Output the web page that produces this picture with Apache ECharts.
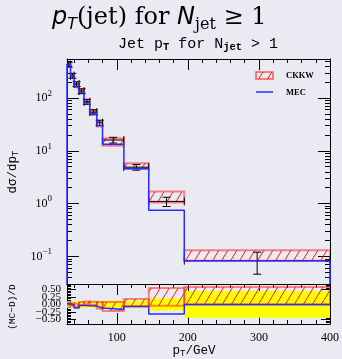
<!DOCTYPE html>
<html>
<head>
<meta charset="utf-8">
<script src="https://cdn.jsdelivr.net/npm/echarts@6/dist/echarts.min.js"></script>
<style>
html, body { margin: 0; padding: 0; background: #eaeaf2; }
#chart { width: 342px; height: 359px; }
</style>
</head>
<body>
<div id="chart"></div>
<script>
// Jet pT bins (GeV)
const binEdges = [30, 35, 40, 47, 54, 62, 72, 80, 110, 145, 195, 400];
// Measured cross section and its uncertainty per bin
const dataVal = [430, 265, 184, 135, 85, 54, 34, 16, 4.9, 1.1, 0.083];
const dataErr = [45, 28, 19, 14, 9, 6, 4, 2.0, 0.6, 0.22, 0.037];
// MEC prediction
const mecVal = [439, 260, 162, 130, 81, 51, 30, 13.3, 4.55, 0.75, 0.083];
// CKKW prediction band (lower / upper edge)
const ckkwLo = [417, 254, 169, 132, 85, 53, 29, 12.5, 4.6, 1.05, 0.083];
const ckkwHi = [456, 276, 188, 146, 93.5, 59, 36.7, 17.3, 5.8, 1.7, 0.131];

// Axis ranges and ticks
const xMin = 30, xMax = 400;
const yMainMin = 0.03, yMainMax = 548;
const yRatioMin = -0.65, yRatioMax = 0.68;
const xMajorTicks = [100, 200, 300, 400];
const xMinorTicks = [40, 60, 80, 120, 140, 160, 180, 220, 240, 260, 280, 320, 340, 360, 380];
const yMainMajorTicks = [0.1, 1, 10, 100];
const ratioMajorTicks = [-0.5, -0.25, 0, 0.25, 0.5];
// ratio labels are split over two axes so that the crowded ones all stay visible
const ratioLabelsA = [-0.5, 0, 0.5];
const ratioLabelsB = [-0.25, 0.25];

const yMainMinorTicks = [];
for (let k = -2; k <= 2; k++) {
  for (let m = 2; m <= 9; m++) {
    const v = m * Math.pow(10, k);
    if (v > yMainMin && v < yMainMax) yMainMinorTicks.push(v);
  }
}
const ratioMinorTicks = [];
for (let i = -13; i <= 13; i++) {
  const v = +(i * 0.05).toFixed(2);
  if (Math.abs(v * 4 - Math.round(v * 4)) > 1e-6) ratioMinorTicks.push(v);
}

// Red diagonal hatch used for the CKKW band
function makeHatch() {
  const c = document.createElement('canvas');
  c.width = 9; c.height = 15;
  const g = c.getContext('2d');
  g.strokeStyle = '#ff1a1a';
  g.lineWidth = 1;
  g.beginPath();
  [-9, 0, 9].forEach(function (dx) { g.moveTo(dx, 15); g.lineTo(dx + 9, 0); });
  g.stroke();
  return c;
}
const hatch = { image: makeHatch(), repeat: 'repeat' };

const serifLabel = { fontFamily: 'Liberation Serif', fontSize: 12, color: '#000' };

function xAxisDef(grid, pos, o) {
  return {
    type: 'value', gridIndex: grid, position: pos, min: xMin, max: xMax,
    axisLine: { show: !!o.line, onZero: false, lineStyle: { color: '#000', width: 1 } },
    axisTick: { show: !!o.ticks, inside: true, length: o.len || 4, customValues: o.ticks || [],
      lineStyle: { color: '#000', width: 1 } },
    axisLabel: o.labels ? Object.assign({ show: true, customValues: o.labels, margin: 8, hideOverlap: false }, serifLabel)
                        : { show: false },
    splitLine: { show: false }
  };
}
function yAxisDef(grid, pos, o) {
  const base = grid === 0
    ? { type: 'log', logBase: 10, min: yMainMin, max: yMainMax }
    : { type: 'value', min: yRatioMin, max: yRatioMax };
  return Object.assign(base, {
    gridIndex: grid, position: pos,
    axisLine: { show: !!o.line, onZero: false, lineStyle: { color: '#000', width: 1 } },
    axisTick: { show: !!o.ticks, inside: true, length: o.len || 5, customValues: o.ticks || [],
      lineStyle: { color: '#000', width: 1 } },
    axisLabel: o.labels ? Object.assign({ show: true, customValues: o.labels, hideOverlap: false }, o.labelOpt)
                        : { show: false },
    splitLine: { show: false }
  });
}

const logLabel = {
  margin: 15,
  formatter: function (v) {
    const e = Math.round(Math.log10(v));
    return '{b|10}{s|' + (e < 0 ? '\u2212' + (-e) : e) + '}';
  },
  rich: {
    b: { fontFamily: 'Liberation Serif', fontSize: 12, lineHeight: 18, color: '#000' },
    s: { fontFamily: 'Liberation Serif', fontSize: 9, lineHeight: 10, verticalAlign: 'top', color: '#000' }
  }
};
const ratioLabel = {
  margin: 6, fontFamily: 'Liberation Serif', fontSize: 11, color: '#000',
  showMinLabel: true, showMaxLabel: true,
  formatter: function (v) { return v < 0 ? '\u2212' + (-v).toFixed(2) : v.toFixed(2); }
};

const xAxes = [
  xAxisDef(0, 'bottom', { line: true }),                                   // 0 main frame bottom
  xAxisDef(0, 'top', { line: true, ticks: xMajorTicks, len: 11 }),          // 1 main top major
  xAxisDef(0, 'top', { ticks: xMinorTicks, len: 4 }),                       // 2 main top minor
  xAxisDef(1, 'bottom', { line: true, ticks: xMajorTicks, len: 11, labels: xMajorTicks }), // 3 ratio bottom
  xAxisDef(1, 'bottom', { ticks: xMinorTicks, len: 4 }),                    // 4
  xAxisDef(1, 'top', { line: true, ticks: xMajorTicks, len: 11 }),          // 5
  xAxisDef(1, 'top', { ticks: xMinorTicks, len: 4 })                        // 6
];
const yAxes = [
  yAxisDef(0, 'left', { line: true, ticks: yMainMajorTicks, len: 12, labels: yMainMajorTicks, labelOpt: logLabel }), // 0
  yAxisDef(0, 'left', { ticks: yMainMinorTicks, len: 5 }),                  // 1
  yAxisDef(0, 'right', { line: true, ticks: yMainMajorTicks, len: 12 }),    // 2
  yAxisDef(0, 'right', { ticks: yMainMinorTicks, len: 5 }),                 // 3
  yAxisDef(1, 'left', { line: true, ticks: ratioMajorTicks, len: 9, labels: ratioLabelsA, labelOpt: ratioLabel }), // 4
  yAxisDef(1, 'left', { ticks: ratioMinorTicks, len: 4 }),                  // 5
  yAxisDef(1, 'right', { line: true, ticks: ratioMajorTicks, len: 9 }),     // 6
  yAxisDef(1, 'right', { ticks: ratioMinorTicks, len: 4 }),                 // 7
  yAxisDef(1, 'left', { labels: ratioLabelsB, labelOpt: ratioLabel })       // 8
];

// Per-bin records
const bins = dataVal.map(function (v, i) {
  return {
    x0: binEdges[i], x1: binEdges[i + 1], v: v, err: dataErr[i],
    mec: mecVal[i], lo: ckkwLo[i], hi: ckkwHi[i]
  };
});

function bandItem(x0, x1, y0, y1, style) {
  return function (api) {
    const a = api.coord([x0, y1]);
    const b = api.coord([x1, y0]);
    return { type: 'rect', shape: { x: a[0], y: a[1], width: b[0] - a[0], height: b[1] - a[1] }, style: style };
  };
}

const bandStyle = { fill: hatch, stroke: 'rgba(255,40,40,0.55)', lineWidth: 2 };

// Histogram outline for MEC (drops to the frame at both ends)
const mecSteps = [[binEdges[0], yMainMin]];
bins.forEach(function (b) { mecSteps.push([b.x0, b.mec], [b.x1, b.mec]); });
mecSteps.push([binEdges[binEdges.length - 1], yMainMin]);

const mecRatioSteps = [];
bins.forEach(function (b) {
  const r = (b.mec - b.v) / b.v;
  mecRatioSteps.push([b.x0, r], [b.x1, r]);
});

const chart = echarts.init(document.getElementById('chart'), null, { renderer: 'canvas' });
chart.setOption({
  backgroundColor: '#eaeaf2',
  animation: false,
  grid: [
    { left: 67, right: 12, top: 59, height: 225, containLabel: false },
    { left: 67, right: 12, top: 284, height: 40, containLabel: false }
  ],
  xAxis: xAxes,
  yAxis: yAxes,
  series: [
    {
      name: 'CKKW', type: 'custom', xAxisIndex: 0, yAxisIndex: 0, clip: true,
      data: bins.map(function (b, i) { return i; }),
      renderItem: function (p, api) {
        const b = bins[p.dataIndex];
        return bandItem(b.x0, b.x1, b.lo, b.hi, bandStyle)(api);
      }
    },
    {
      name: 'MEC', type: 'line', xAxisIndex: 0, yAxisIndex: 0, data: mecSteps,
      showSymbol: false, symbol: 'none', clip: true,
      lineStyle: { color: '#2a2aff', width: 1.5 }
    },
    {
      name: 'Data', type: 'custom', xAxisIndex: 0, yAxisIndex: 0, clip: true,
      data: bins.map(function (b, i) { return i; }),
      renderItem: function (p, api) {
        const b = bins[p.dataIndex];
        const xc = (b.x0 + b.x1) / 2;
        const l = api.coord([b.x0, b.v]);
        const r = api.coord([b.x1, b.v]);
        const t = api.coord([xc, b.v + b.err]);
        const d = api.coord([xc, b.v - b.err]);
        const cap = 4;
        const st = { stroke: '#000', lineWidth: 1 };
        const seg = function (x1, y1, x2, y2) {
          return { type: 'line', shape: { x1: x1, y1: y1, x2: x2, y2: y2 }, style: st };
        };
        return {
          type: 'group',
          children: [
            seg(l[0], l[1], r[0], r[1]),
            seg(l[0], l[1] - cap, l[0], l[1] + cap),
            seg(r[0], r[1] - cap, r[0], r[1] + cap),
            seg(t[0], t[1], d[0], d[1]),
            seg(t[0] - cap, t[1], t[0] + cap, t[1]),
            seg(d[0] - cap, d[1], d[0] + cap, d[1])
          ]
        };
      }
    },
    {
      name: 'Data uncertainty', type: 'custom', xAxisIndex: 3, yAxisIndex: 4, clip: true,
      data: bins.map(function (b, i) { return i; }),
      renderItem: function (p, api) {
        const b = bins[p.dataIndex];
        const e = b.err / b.v;
        return bandItem(b.x0, b.x1, -e, e, { fill: '#ffff00' })(api);
      }
    },
    {
      name: 'CKKW ratio', type: 'custom', xAxisIndex: 3, yAxisIndex: 4, clip: true,
      data: bins.map(function (b, i) { return i; }),
      renderItem: function (p, api) {
        const b = bins[p.dataIndex];
        return bandItem(b.x0, b.x1, (b.lo - b.v) / b.v, (b.hi - b.v) / b.v, bandStyle)(api);
      }
    },
    {
      name: 'MEC ratio', type: 'line', xAxisIndex: 3, yAxisIndex: 4, data: mecRatioSteps,
      showSymbol: false, symbol: 'none', clip: true,
      lineStyle: { color: '#2a2aff', width: 1.5 }
    }
  ],
  graphic: [
    {
      type: 'text', left: 52, top: 6,
      style: {
        text: '{i|p}{is|T}{r|(jet) for }{i|N}{rs|jet}{r| \u2265 1}',
        rich: {
          i: { fontFamily: 'DejaVu Sans', fontStyle: 'italic', fontSize: 24, lineHeight: 30, fill: '#000' },
          is: { fontFamily: 'DejaVu Sans', fontStyle: 'italic', fontSize: 16, lineHeight: 18, verticalAlign: 'bottom', fill: '#000' },
          r: { fontFamily: 'DejaVu Serif', fontSize: 24, lineHeight: 30, fill: '#000' },
          rs: { fontFamily: 'DejaVu Serif', fontSize: 16, lineHeight: 18, verticalAlign: 'bottom', fill: '#000' }
        }
      }
    },
    {
      type: 'text', x: 198, y: 44,
      style: {
        text: '{m|Jet p}{s|T}{m| for N}{s|jet}{m| > 1}',
        align: 'center', verticalAlign: 'middle',
        rich: {
          m: { fontFamily: 'Liberation Mono', fontSize: 15, lineHeight: 18, fill: '#000' },
          s: { fontFamily: 'Liberation Mono', fontSize: 10.5, fontWeight: 'bold', lineHeight: 11, verticalAlign: 'bottom', fill: '#000' }
        }
      }
    },
    {
      type: 'text', x: 194, y: 351,
      style: {
        text: '{m|p}{s|T}{m|/GeV}', align: 'center', verticalAlign: 'middle',
        rich: {
          m: { fontFamily: 'Liberation Mono', fontSize: 12.5, lineHeight: 15, fill: '#000' },
          s: { fontFamily: 'Liberation Mono', fontSize: 9, lineHeight: 9, verticalAlign: 'bottom', fill: '#000' }
        }
      }
    },
    {
      type: 'text', x: 13, y: 172, rotation: Math.PI / 2,
      style: {
        text: '{m|d\u03c3/dp}{s|T}', align: 'center', verticalAlign: 'middle',
        rich: {
          m: { fontFamily: 'Liberation Mono', fontSize: 12.5, lineHeight: 15, fill: '#000' },
          s: { fontFamily: 'Liberation Mono', fontSize: 9, lineHeight: 9, verticalAlign: 'bottom', fill: '#000' }
        }
      }
    },
    {
      type: 'text', x: 12, y: 307, rotation: Math.PI / 2,
      style: {
        text: '(MC\u2212D)/D', align: 'center', verticalAlign: 'middle',
        fontFamily: 'Liberation Mono', fontSize: 9.5, fill: '#000'
      }
    },
    {
      type: 'rect', shape: { x: 256, y: 72, width: 17, height: 7 },
      style: { fill: hatch, stroke: 'rgba(255,40,40,0.75)', lineWidth: 1.5 }
    },
    {
      type: 'text', x: 286, y: 76,
      style: { text: 'CKKW', verticalAlign: 'middle', fontFamily: 'Liberation Serif', fontWeight: 'bold', fontSize: 8.5, fill: '#000' }
    },
    {
      type: 'line', shape: { x1: 256, y1: 92, x2: 273, y2: 92 },
      style: { stroke: '#2a2aff', lineWidth: 1.5 }
    },
    {
      type: 'text', x: 286, y: 93,
      style: { text: 'MEC', verticalAlign: 'middle', fontFamily: 'Liberation Serif', fontWeight: 'bold', fontSize: 8.5, fill: '#000' }
    }
  ]
});
</script>
</body>
</html>
